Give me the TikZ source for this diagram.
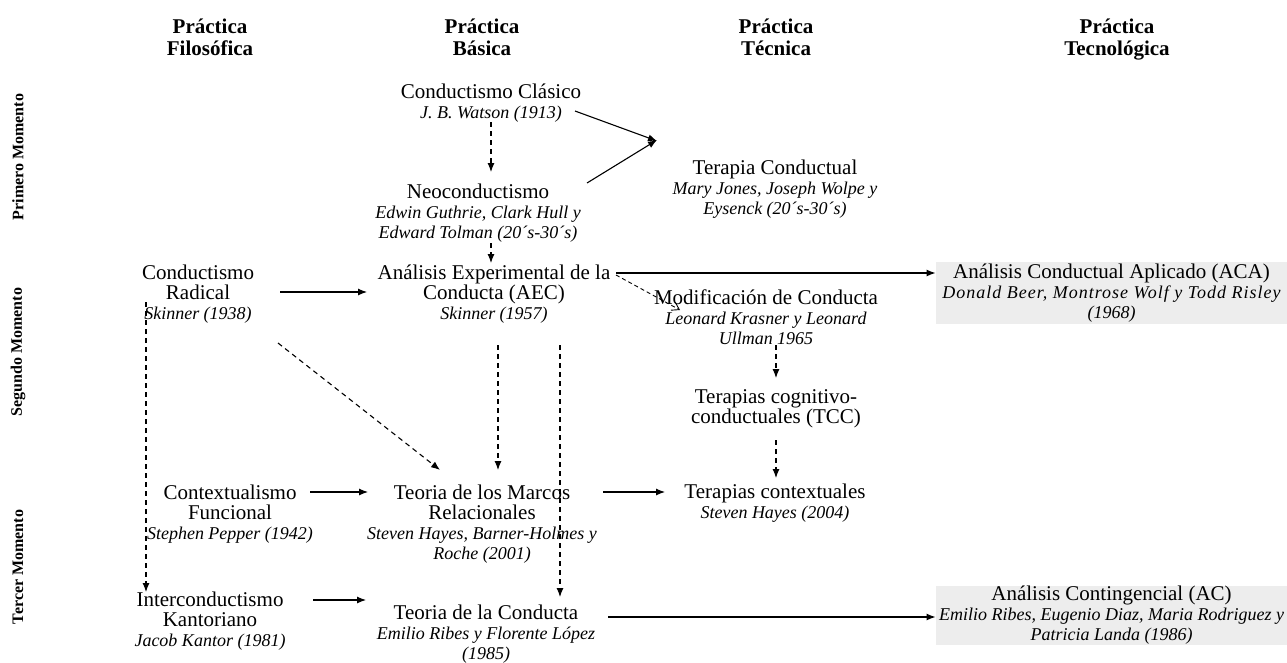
\documentclass[tikz,border=0pt]{standalone}
\usepackage{fontspec}
\setmainfont{Liberation Serif}
\usetikzlibrary{arrows.meta}
\newcommand\subt{\fontsize{18}{20}\selectfont\itshape}
\definecolor{boxgray}{HTML}{EDEDED}
\tikzset{
 concept/.style={align=center, inner sep=0pt, font=\fontsize{21}{20}\selectfont},
 header/.style={align=center, inner sep=0pt, font=\fontsize{21}{22}\selectfont\bfseries},
 rowlabel/.style={rotate=90, inner sep=0pt, font=\fontsize{16}{16}\selectfont\bfseries},
 graybox/.style={concept, fill=boxgray, minimum width=351pt},
 solidarrow/.style={line width=1.1pt, -{Latex[length=9pt,width=7pt]}},
 dasharrow/.style={solidarrow, dash pattern=on 5pt off 4pt},
 openarrow/.style={line width=0.9pt, dash pattern=on 4pt off 3pt, -{Straight Barb[length=7pt,width=9pt]}}
}
\begin{document}
\begin{tikzpicture}[x=1pt,y=-1pt]
\useasboundingbox (0,0) rectangle (1287,662);
% headers
\node[header, anchor=north] (h1) at (210,19) {Práctica\\Filosófica};
\node[header, anchor=north] (h2) at (482,19) {Práctica\\Básica};
\node[header, anchor=north] (h3) at (776,19) {Práctica\\Técnica};
\node[header, anchor=north] (h4) at (1117,19) {Práctica\\Tecnológica};
% row labels
\node[rowlabel] (r1) at (18,157) {Primero Momento};
\node[rowlabel] (r2) at (18,352) {Segundo Momento};
\node[rowlabel] (r3) at (18,567) {Tercer Momento};
% concepts
\node[concept] (cc) at (491,103) {Conductismo Clásico\\{\subt J. B. Watson (1913)}};
\node[concept] (neo) at (478,213) {Neoconductismo\\{\subt Edwin Guthrie, Clark Hull y}\\{\subt Edward Tolman (20´s-30´s)}};
\node[concept] (tc) at (775,189) {Terapia Conductual\\{\subt Mary Jones, Joseph Wolpe y}\\{\subt Eysenck (20´s-30´s)}};
\node[concept] (cr) at (198,294) {Conductismo\\Radical\\{\subt Skinner (1938)}};
\node[concept] (aec) at (494,294) {Análisis Experimental de la\\Conducta (AEC)\\{\subt Skinner (1957)}};
\node[concept] (mc) at (766,317) {Modificación de Conducta\\{\subt Leonard Krasner y Leonard}\\{\subt Ullman 1965}};
\node[concept] (tcc) at (776,409) {Terapias cognitivo-\\conductuales (TCC)};
\node[graybox, minimum height=62pt] (aca) at (1111.5,293) {Análisis Conductual Aplicado (ACA)\\{\subt\addfontfeatures{LetterSpace=5.5}Donald Beer, Montrose Wolf y Todd Risley}\\{\subt (1968)}};
\node[concept] (cf) at (230,514) {Contextualismo\\Funcional\\{\subt Stephen Pepper (1942)}};
\node[concept] (tmr) at (482,524) {Teoria de los Marcos\\Relacionales\\{\subt Steven Hayes, Barner-Holmes y}\\{\subt Roche (2001)}};
\node[concept] (tcx) at (775,503) {Terapias contextuales\\{\subt Steven Hayes (2004)}};
\node[concept] (ik) at (210,621) {Interconductismo\\Kantoriano\\{\subt Jacob Kantor (1981)}};
\node[concept] (tdc) at (486,634) {Teoria de la Conducta\\{\subt Emilio Ribes y Florente López}\\{\subt (1985)}};
\node[graybox, minimum height=57pt] (ac) at (1111.5,615.5) {Análisis Contingencial (AC)\\{\subt Emilio Ribes, Eugenio Diaz, Maria Rodriguez y}\\{\subt Patricia Landa (1986)}};
% connectors
\draw[solidarrow] ([shift={(84,8)}]cc.center) -- ([shift={(-118,-48)}]tc.center);
\draw[solidarrow] ([shift={(109,-30)}]neo.center) -- ([shift={(-118,-49)}]tc.center);
\draw[dasharrow] ([shift={(0,19)}]cc.center) -- ([shift={(13,-41)}]neo.center);
\draw[dasharrow] ([shift={(13,30)}]neo.center) -- ([shift={(-3,-31)}]aec.center);
\draw[solidarrow] ([shift={(82,-2)}]cr.center) -- ([shift={(-127,-2)}]aec.center);
\draw[dasharrow] ([shift={(80,49)}]cr.center) -- ([shift={(-42,-54)}]tmr.center);
\draw[dasharrow] ([shift={(-52,8)}]cr.center) -- ([shift={(-64,-29)}]ik.center);
\draw[dasharrow] ([shift={(4,51)}]aec.center) -- ([shift={(16,-54)}]tmr.center);
\draw[dasharrow] ([shift={(66,51)}]aec.center) -- ([shift={(74,-37)}]tdc.center);
\draw[solidarrow] ([shift={(122,-21)}]aec.center) -- ([shift={(-176,-20)}]aca.center);
\draw[openarrow] ([shift={(122,-19)}]aec.center) -- ([shift={(-86,-7)}]mc.center);
\draw[dasharrow] ([shift={(10,28)}]mc.center) -- ([shift={(0,-31)}]tcc.center);
\draw[dasharrow] ([shift={(0,31)}]tcc.center) -- ([shift={(1,-25)}]tcx.center);
\draw[solidarrow] ([shift={(80,-22)}]cf.center) -- ([shift={(-114,-32)}]tmr.center);
\draw[solidarrow] ([shift={(121,-32)}]tmr.center) -- ([shift={(-110,-11)}]tcx.center);
\draw[solidarrow] ([shift={(103,-21)}]ik.center) -- ([shift={(-120,-34)}]tdc.center);
\draw[solidarrow] ([shift={(122,-17)}]tdc.center) -- ([shift={(-176,1.5)}]ac.center);
\end{tikzpicture}
\end{document}
